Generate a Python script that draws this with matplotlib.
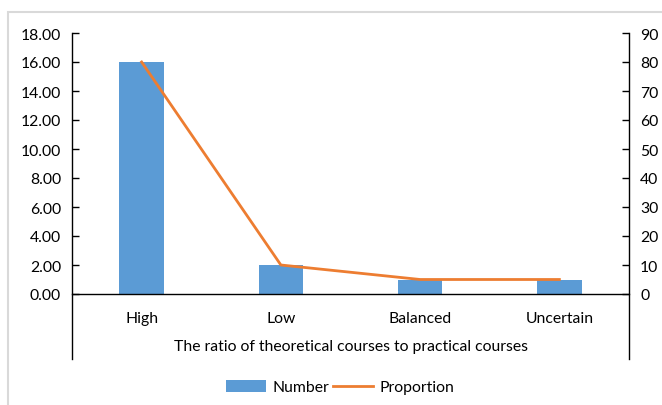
import matplotlib
matplotlib.use("Agg")
import matplotlib.pyplot as plt
from matplotlib.patches import Rectangle, Patch
from matplotlib.lines import Line2D
from matplotlib.ticker import FormatStrFormatter

plt.rcParams['font.family'] = ['Lato', 'DejaVu Sans']

categories = ["High", "Low", "Balanced", "Uncertain"]
number = [16, 2, 1, 1]
proportion = [80, 10, 5, 5]

bar_color = "#5B9BD5"
line_color = "#ED7D31"

W, H = 662, 406
fig = plt.figure(figsize=(W / 100, H / 100), dpi=100)

# light gray chart-area border
fig.patches.append(Rectangle((8 / W, -0.1), 1.2, 1 - 13 / H + 0.1, transform=fig.transFigure,
                             fill=False, edgecolor="#D9D9D9", linewidth=1.5))

left, right, bottom, top = 72 / W, 629 / W, (H - 295) / H, (H - 34) / H
ax = fig.add_axes([left, bottom, right - left, top - bottom])
ax2 = ax.twinx()

x = list(range(len(categories)))
ax.bar(x, number, width=0.32, color=bar_color, zorder=2)
ax2.plot(x, proportion, color=line_color, linewidth=2.0, zorder=3)

ax.set_xlim(-0.5, 3.5)
ax.set_ylim(0, 18)
ax.set_yticks(range(0, 19, 2))
ax.yaxis.set_major_formatter(FormatStrFormatter("%.2f"))
ax2.set_ylim(0, 90)
ax2.set_yticks(range(0, 91, 10))

fs = 11.3
for a in (ax, ax2):
    for s in a.spines.values():
        s.set_visible(False)
    a.tick_params(axis='y', direction='in', length=5, width=1, colors='black',
                  labelsize=fs, pad=8)
ax.tick_params(axis='x', length=0, labelsize=fs, pad=12)
ax.set_xticks(x)
ax.set_xticklabels(categories)
ax.set_xlabel("The ratio of theoretical courses to practical courses", fontsize=fs, labelpad=10)

# axis lines: the verticals run below the category labels
ext = -65 / (295 - 34)
ax.add_line(Line2D([0, 0], [ext, 1], transform=ax.transAxes, color='black', lw=1, clip_on=False))
ax.add_line(Line2D([1, 1], [ext, 1], transform=ax.transAxes, color='black', lw=1, clip_on=False))
ax.add_line(Line2D([0, 1], [0, 0], transform=ax.transAxes, color='black', lw=1, clip_on=False, zorder=4))

handles = [Patch(facecolor=bar_color, edgecolor='none'),
           Line2D([], [], color=line_color, lw=2.0)]
fig.legend(handles, ["Number", "Proportion"], loc='center', bbox_to_anchor=(340 / W, 1 - 388 / H),
           ncol=2, frameon=False, fontsize=fs, handlelength=2.6, handleheight=0.8,
           columnspacing=0.2, handletextpad=0.4)

fig.savefig("out.png", dpi=100)
